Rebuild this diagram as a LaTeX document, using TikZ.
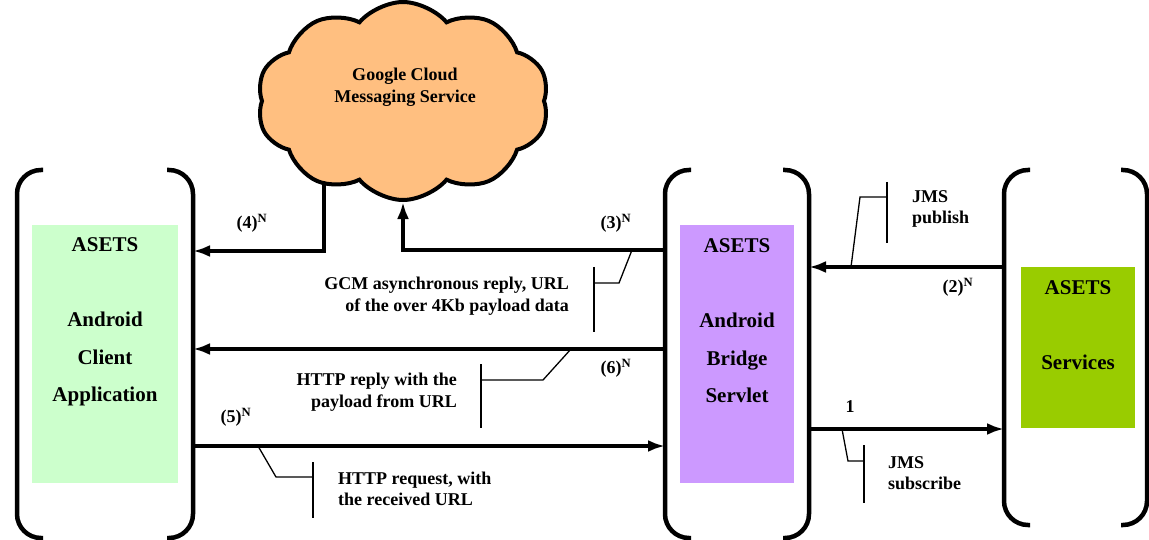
\documentclass[tikz,border=0pt]{standalone}
\usepackage{fontspec}
\setmainfont{Liberation Serif}
\usetikzlibrary{arrows.meta,shapes.symbols,backgrounds}
\definecolor{clientgreen}{HTML}{CCFFCC}
\definecolor{bridgepurple}{HTML}{CC99FF}
\definecolor{servicegreen}{HTML}{99CC00}
\definecolor{cloudorange}{HTML}{FFBF80}
\begin{document}
\begin{tikzpicture}[x=1pt,y=-1pt,
	bracket/.style={line width=4.5pt, rounded corners=24pt},
	flow/.style={line width=3.5pt, -{Latex[length=17pt,width=12pt]}},
	callout/.style={line width=1.3pt},
	holder/.style={minimum width=#1, inner sep=0pt, outer sep=0pt},
	colbox/.style={minimum width=146pt, inner sep=0pt},
	boxtitle/.style={font=\fontsize{21}{37.5}\selectfont\bfseries, align=center},
	note/.style={font=\fontsize{18}{21.5}\selectfont\bfseries, inner sep=0pt},
	numlabel/.style={font=\fontsize{18}{21.5}\selectfont\bfseries, inner sep=0pt}]
				\useasboundingbox (0, 0) rectangle (1149, 540);

				%%the three brackets
				\node[holder=176pt, minimum height=368pt] (clientframe) at (105, 354) {};
				\node[holder=144pt, minimum height=368pt] (bridgeframe) at (737, 354) {};
				\node[holder=143pt, minimum height=355pt] (servicesframe) at (1075.5, 347.5) {};
				\foreach \f in {clientframe, bridgeframe, servicesframe}{
					\draw[bracket]([xshift=26pt]\f.north west) -- (\f.north west) -- (\f.south west) -- ([xshift=26pt]\f.south west);
					\draw[bracket]([xshift=-26pt]\f.north east) -- (\f.north east) -- (\f.south east) -- ([xshift=-26pt]\f.south east);
				}

				%%coloured boxes
				\node[colbox, fill=clientgreen, minimum height=258pt] (client) at (105, 354) {};
					\node[boxtitle] (clienttext) at (105, 322) {ASETS\\ \\Android\\Client\\Application};
				\node[colbox, fill=bridgepurple, minimum width=114pt, minimum height=258pt] (bridge) at (737, 354) {};
					\node[boxtitle] (bridgetext) at (737, 321) {ASETS\\ \\Android\\Bridge\\Servlet};
				\node[colbox, fill=servicegreen, minimum width=114pt, minimum height=161pt] (services) at (1078, 347.5) {};
					\node[boxtitle] (servicestext) at (1078, 325) {ASETS\\ \\Services};

				%%the cloud
				\node[cloud, cloud puffs=10, cloud puff arc=100, cloud ignores aspect, draw, line width=4pt,
					fill=cloudorange, minimum width=292pt, minimum height=198pt] (gcm) at (403, 101) {};
				\node[note, align=center] (gcmtext) at (405, 87) {Google Cloud\\Messaging Service};

				%%arrows
				\draw[flow](bridgeframe.east |- 0, 429) to (servicesframe.west |- 0, 429);
					\node[numlabel] (lbl1) at (850, 407) {1};
				\draw[flow](servicesframe.west |- 0, 267) to (bridgeframe.east |- 0, 267);
					\node[numlabel] (lbl2) at (958, 287) {(2)\textsuperscript{N}};
				\draw[flow](bridgeframe.west |- 0, 250) -| (gcm.south);
					\node[numlabel] (lbl3) at (616, 223) {(3)\textsuperscript{N}};
				\begin{scope}[on background layer]
					\draw[flow](gcm.center -| 324, 0) |- (clientframe.east |- 0, 251);
				\end{scope}
					\node[numlabel] (lbl4) at (252, 223) {(4)\textsuperscript{N}};
				\draw[flow](clientframe.east |- 0, 446) to (bridgeframe.west |- 0, 446);
					\node[numlabel] (lbl5) at (236, 417) {(5)\textsuperscript{N}};
				\draw[flow](bridgeframe.west |- 0, 349) to (clientframe.east |- 0, 349);
					\node[numlabel] (lbl6) at (616, 368) {(6)\textsuperscript{N}};

				%%callouts
				\node[note, anchor=east, align=right] (gcmnote) at (569, 296) {GCM asynchronous reply, URL\\of the over 4Kb payload data};
				\draw[callout](632, 250) -- (619, 283) -- (594, 283);
				\draw[callout](594, 267) -- (594, 332);

				\node[note, anchor=east, align=right] (replynote) at (457, 392) {HTTP reply with the\\payload from URL};
				\draw[callout](571, 349) -- (543, 380) -- (481, 380);
				\draw[callout](481, 364) -- (481, 428);

				\node[note, anchor=west, align=left] (requestnote) at (338, 489) {HTTP request, with\\the received URL};
				\draw[callout](258, 446) -- (276, 477) -- (313, 477);
				\draw[callout](313, 462) -- (313, 518);

				\node[note, anchor=west, align=left] (publishnote) at (912, 209) {JMS\\publish};
				\draw[callout](851, 267) -- (860, 197) -- (887, 197);
				\draw[callout](887, 182) -- (887, 243);

				\node[note, anchor=west, align=left] (subscribenote) at (888, 473) {JMS\\subscribe};
				\draw[callout](842, 429) -- (848, 461) -- (864, 461);
				\draw[callout](864, 445) -- (864, 503);
\end{tikzpicture}
\end{document}
